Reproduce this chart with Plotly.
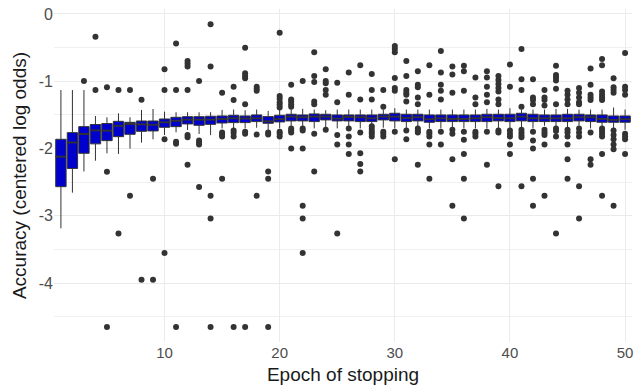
import plotly.graph_objects as go

# Epoch at which training was stopped (1..50)
epochs = list(range(1, 51))

# Box statistics of accuracy (centered log odds) per stopping epoch
lower_whisker = [
    -3.185, -2.655, -2.34, -2.18, -2.07, -2.08, -2.00, -1.912, -1.862, -1.798,
    -1.758, -1.724, -1.783, -1.80, -1.70, -1.70, -1.70, -1.69, -1.72, -1.70,
    -1.68, -1.68, -1.70, -1.68, -1.70, -1.68, -1.70, -1.65, -1.69, -1.70,
    -1.70, -1.68, -1.70, -1.70, -1.68, -1.70, -1.70, -1.70, -1.70, -1.70,
    -1.69, -1.70, -1.66, -1.67, -1.69, -1.66, -1.70, -1.68, -1.70, -1.72,
]
q1 = [
    -2.566, -2.295, -2.07, -1.93, -1.882, -1.823, -1.788, -1.743, -1.738, -1.684,
    -1.674, -1.634, -1.654, -1.64, -1.62, -1.614, -1.614, -1.599, -1.624, -1.604,
    -1.589, -1.589, -1.599, -1.574, -1.589, -1.589, -1.599, -1.599, -1.574, -1.589,
    -1.599, -1.589, -1.609, -1.599, -1.599, -1.599, -1.599, -1.599, -1.589, -1.599,
    -1.589, -1.599, -1.599, -1.599, -1.599, -1.589, -1.599, -1.609, -1.609, -1.609,
]
median = [
    -2.12, -1.91, -1.783, -1.73, -1.733, -1.662, -1.634, -1.64, -1.645, -1.61,
    -1.585, -1.57, -1.57, -1.57, -1.56, -1.55, -1.554, -1.55, -1.595, -1.564,
    -1.525, -1.535, -1.525, -1.525, -1.554, -1.53, -1.535, -1.55, -1.525, -1.525,
    -1.545, -1.535, -1.564, -1.55, -1.559, -1.559, -1.55, -1.535, -1.545, -1.55,
    -1.525, -1.55, -1.55, -1.55, -1.55, -1.535, -1.535, -1.559, -1.574, -1.564,
]
q3 = [
    -1.862, -1.763, -1.674, -1.642, -1.628, -1.595, -1.61, -1.59, -1.59, -1.56,
    -1.535, -1.526, -1.526, -1.52, -1.515, -1.505, -1.515, -1.50, -1.525, -1.505,
    -1.49, -1.50, -1.485, -1.49, -1.50, -1.50, -1.50, -1.50, -1.49, -1.475,
    -1.49, -1.49, -1.50, -1.50, -1.50, -1.50, -1.50, -1.49, -1.49, -1.49,
    -1.475, -1.49, -1.50, -1.50, -1.49, -1.49, -1.50, -1.50, -1.515, -1.515,
]
upper_whisker = [
    -1.13, -1.13, -1.13, -1.516, -1.535, -1.476, -1.535, -1.426, -1.412, -1.451,
    -1.46, -1.46, -1.46, -1.46, -1.426, -1.42, -1.43, -1.42, -1.44, -1.42,
    -1.42, -1.41, -1.42, -1.43, -1.42, -1.42, -1.42, -1.42, -1.42, -1.40,
    -1.42, -1.42, -1.42, -1.42, -1.42, -1.42, -1.42, -1.41, -1.42, -1.40,
    -1.42, -1.42, -1.42, -1.41, -1.41, -1.42, -1.42, -1.42, -1.39, -1.42,
]

# Outlying runs per stopping epoch
outliers = {
    3: [-0.995],
    4: [-0.34, -1.13],
    5: [-1.09, -2.343, -4.65],
    6: [-1.13, -3.26],
    7: [-1.13, -2.70],
    8: [-1.273, -3.95],
    9: [-2.45, -3.95],
    10: [-0.82, -1.13, -1.862, -3.55],
    11: [-0.44, -1.13, -1.90, -1.93, -4.65],
    12: [-0.70, -0.74, -0.78, -1.13, -1.80, -1.83, -2.24],
    13: [-0.995, -1.88, -1.91, -1.94, -2.57],
    14: [-0.153, -0.78, -2.70, -3.04, -4.65],
    15: [-1.17, -1.76, -1.79, -1.82, -2.45],
    16: [-1.08, -1.28, -1.73, -1.77, -1.82, -4.65],
    17: [-0.50, -0.88, -0.92, -0.955, -1.34, -1.75, -1.78, -4.65],
    18: [-1.08, -1.11, -1.14, -1.79, -2.70],
    19: [-1.76, -1.79, -2.34, -2.45, -4.65],
    20: [-0.28, -1.22, -1.26, -1.31, -1.35, -1.39, -1.75, -1.78, -1.82],
    21: [-1.05, -1.27, -1.30, -1.34, -1.38, -1.70, -1.73, -1.76, -2.0],
    22: [-0.995, -1.70, -1.73, -2.0, -2.85, -3.04, -3.55],
    23: [-0.57, -0.92, -1.01, -1.30, -1.34, -1.78, -2.34],
    24: [-0.82, -0.995, -1.03, -1.13, -1.20, -1.72],
    25: [-1.02, -1.31, -1.80, -1.94, -3.26],
    26: [-0.87, -1.20, -1.70, -1.82, -1.94, -2.08],
    27: [-0.76, -1.27, -1.76, -2.07, -2.23, -2.34],
    28: [-0.89, -1.13, -1.27, -1.67, -1.71, -1.75, -1.78, -1.82],
    29: [-1.13, -1.38, -1.75, -1.78, -1.82],
    30: [-0.475, -0.52, -0.57, -0.95, -1.10, -1.14, -1.75, -2.16],
    31: [-0.70, -0.92, -1.13, -1.17, -1.20, -1.30, -1.73, -1.86],
    32: [-0.85, -1.05, -1.09, -1.24, -1.34, -1.70, -1.73, -1.76, -2.24],
    33: [-0.76, -1.20, -1.75, -1.78, -1.82, -1.94, -2.45],
    34: [-0.55, -0.87, -1.05, -1.14, -1.27, -1.75, -1.94],
    35: [-0.78, -0.90, -1.17, -1.72, -1.78, -2.16, -2.85],
    36: [-0.77, -0.85, -1.14, -1.75, -1.87, -2.08, -2.45, -3.04],
    37: [-0.945, -1.24, -1.34, -1.75, -1.78, -1.82],
    38: [-0.85, -0.945, -1.08, -1.20, -1.31, -1.75, -2.24],
    39: [-0.92, -0.98, -1.04, -1.10, -1.15, -1.27, -1.34, -1.73, -1.76, -2.56],
    40: [-0.75, -1.08, -1.73, -1.78, -1.82, -1.94, -2.08],
    41: [-0.52, -0.97, -1.13, -1.38, -1.72, -1.76, -1.80, -1.83, -2.56],
    42: [-0.97, -1.24, -1.28, -1.34, -1.75, -1.88, -2.00, -2.45, -2.85],
    43: [-1.13, -1.24, -1.28, -1.36, -1.72, -1.76, -1.80, -1.94, -2.70],
    44: [-0.77, -0.905, -0.945, -0.99, -1.11, -1.34, -1.70, -1.74, -1.82, -3.26],
    45: [-1.14, -1.20, -1.27, -1.34, -1.72, -1.76, -1.82, -1.94, -2.16, -2.45],
    46: [-1.10, -1.17, -1.24, -1.31, -1.34, -1.70, -1.76, -1.82, -2.56, -3.04],
    47: [-0.81, -1.05, -1.20, -1.24, -1.28, -1.76, -2.16, -2.24],
    48: [-0.67, -0.76, -1.15, -1.20, -1.24, -1.28, -1.70, -1.74, -1.78, -1.82, -2.08, -2.70],
    49: [-0.955, -1.09, -1.13, -1.17, -1.73, -1.80, -1.86, -1.94, -2.01, -2.85],
    50: [-0.58, -1.08, -1.13, -1.20, -1.78, -1.82, -1.86, -2.08],
}

x_ticks = [10, 20, 30, 40, 50]
y_ticks = [0, -1, -2, -3, -4]
y_tick_labels = ["0", "-1", "-2", "-3", "-4"]

BOX_WIDTH = 0.9
FILL = "#0000CD"
EDGE = "#333333"

fig = go.Figure()

fig.add_trace(go.Box(
    x=epochs,
    q1=q1,
    median=median,
    q3=q3,
    lowerfence=lower_whisker,
    upperfence=upper_whisker,
    width=BOX_WIDTH,
    whiskerwidth=0,
    fillcolor=FILL,
    line=dict(color=EDGE, width=1.0),
    boxpoints=False,
    showlegend=False,
))

# thicker median bars, as in a classic boxplot
med_x, med_y = [], []
for e, m in zip(epochs, median):
    med_x += [e - BOX_WIDTH / 2, e + BOX_WIDTH / 2, None]
    med_y += [m, m, None]
fig.add_trace(go.Scatter(
    x=med_x, y=med_y, mode="lines",
    line=dict(color=EDGE, width=1.8),
    hoverinfo="skip", showlegend=False,
))

out_x, out_y = [], []
for e, vals in outliers.items():
    out_x += [e] * len(vals)
    out_y += vals
fig.add_trace(go.Scatter(
    x=out_x, y=out_y, mode="markers",
    marker=dict(color=EDGE, size=6, line=dict(width=0)),
    showlegend=False,
))

font_family = "Liberation Sans, Arial, sans-serif"

fig.update_layout(
    width=634, height=391,
    margin=dict(l=54, r=2, t=9, b=49),
    plot_bgcolor="white", paper_bgcolor="white",
    font=dict(family=font_family),
)
fig.update_xaxes(
    range=[0.4, 50.6],
    tickvals=x_ticks,
    ticks="", showline=False, zeroline=False,
    showgrid=True, gridcolor="#EBEBEB", gridwidth=1.2,
    tickfont=dict(size=15, color="#4D4D4D"),
    title=dict(text="Epoch of stopping", font=dict(size=19, color="#1A1A1A"), standoff=7),
)
fig.update_yaxes(
    range=[-4.874, 0.074],
    tickvals=y_ticks, ticktext=y_tick_labels,
    ticks="", showline=False, zeroline=False,
    showgrid=True, gridcolor="#EBEBEB", gridwidth=1.2,
    minor=dict(dtick=0.5, tick0=0, showgrid=True, gridcolor="#F0F0F0", gridwidth=0.8),
    tickfont=dict(size=16, color="#4D4D4D"),
    title=dict(text="Accuracy (centered log odds)", font=dict(size=19, color="#1A1A1A"), standoff=7),
)

fig.write_html("out.html")
